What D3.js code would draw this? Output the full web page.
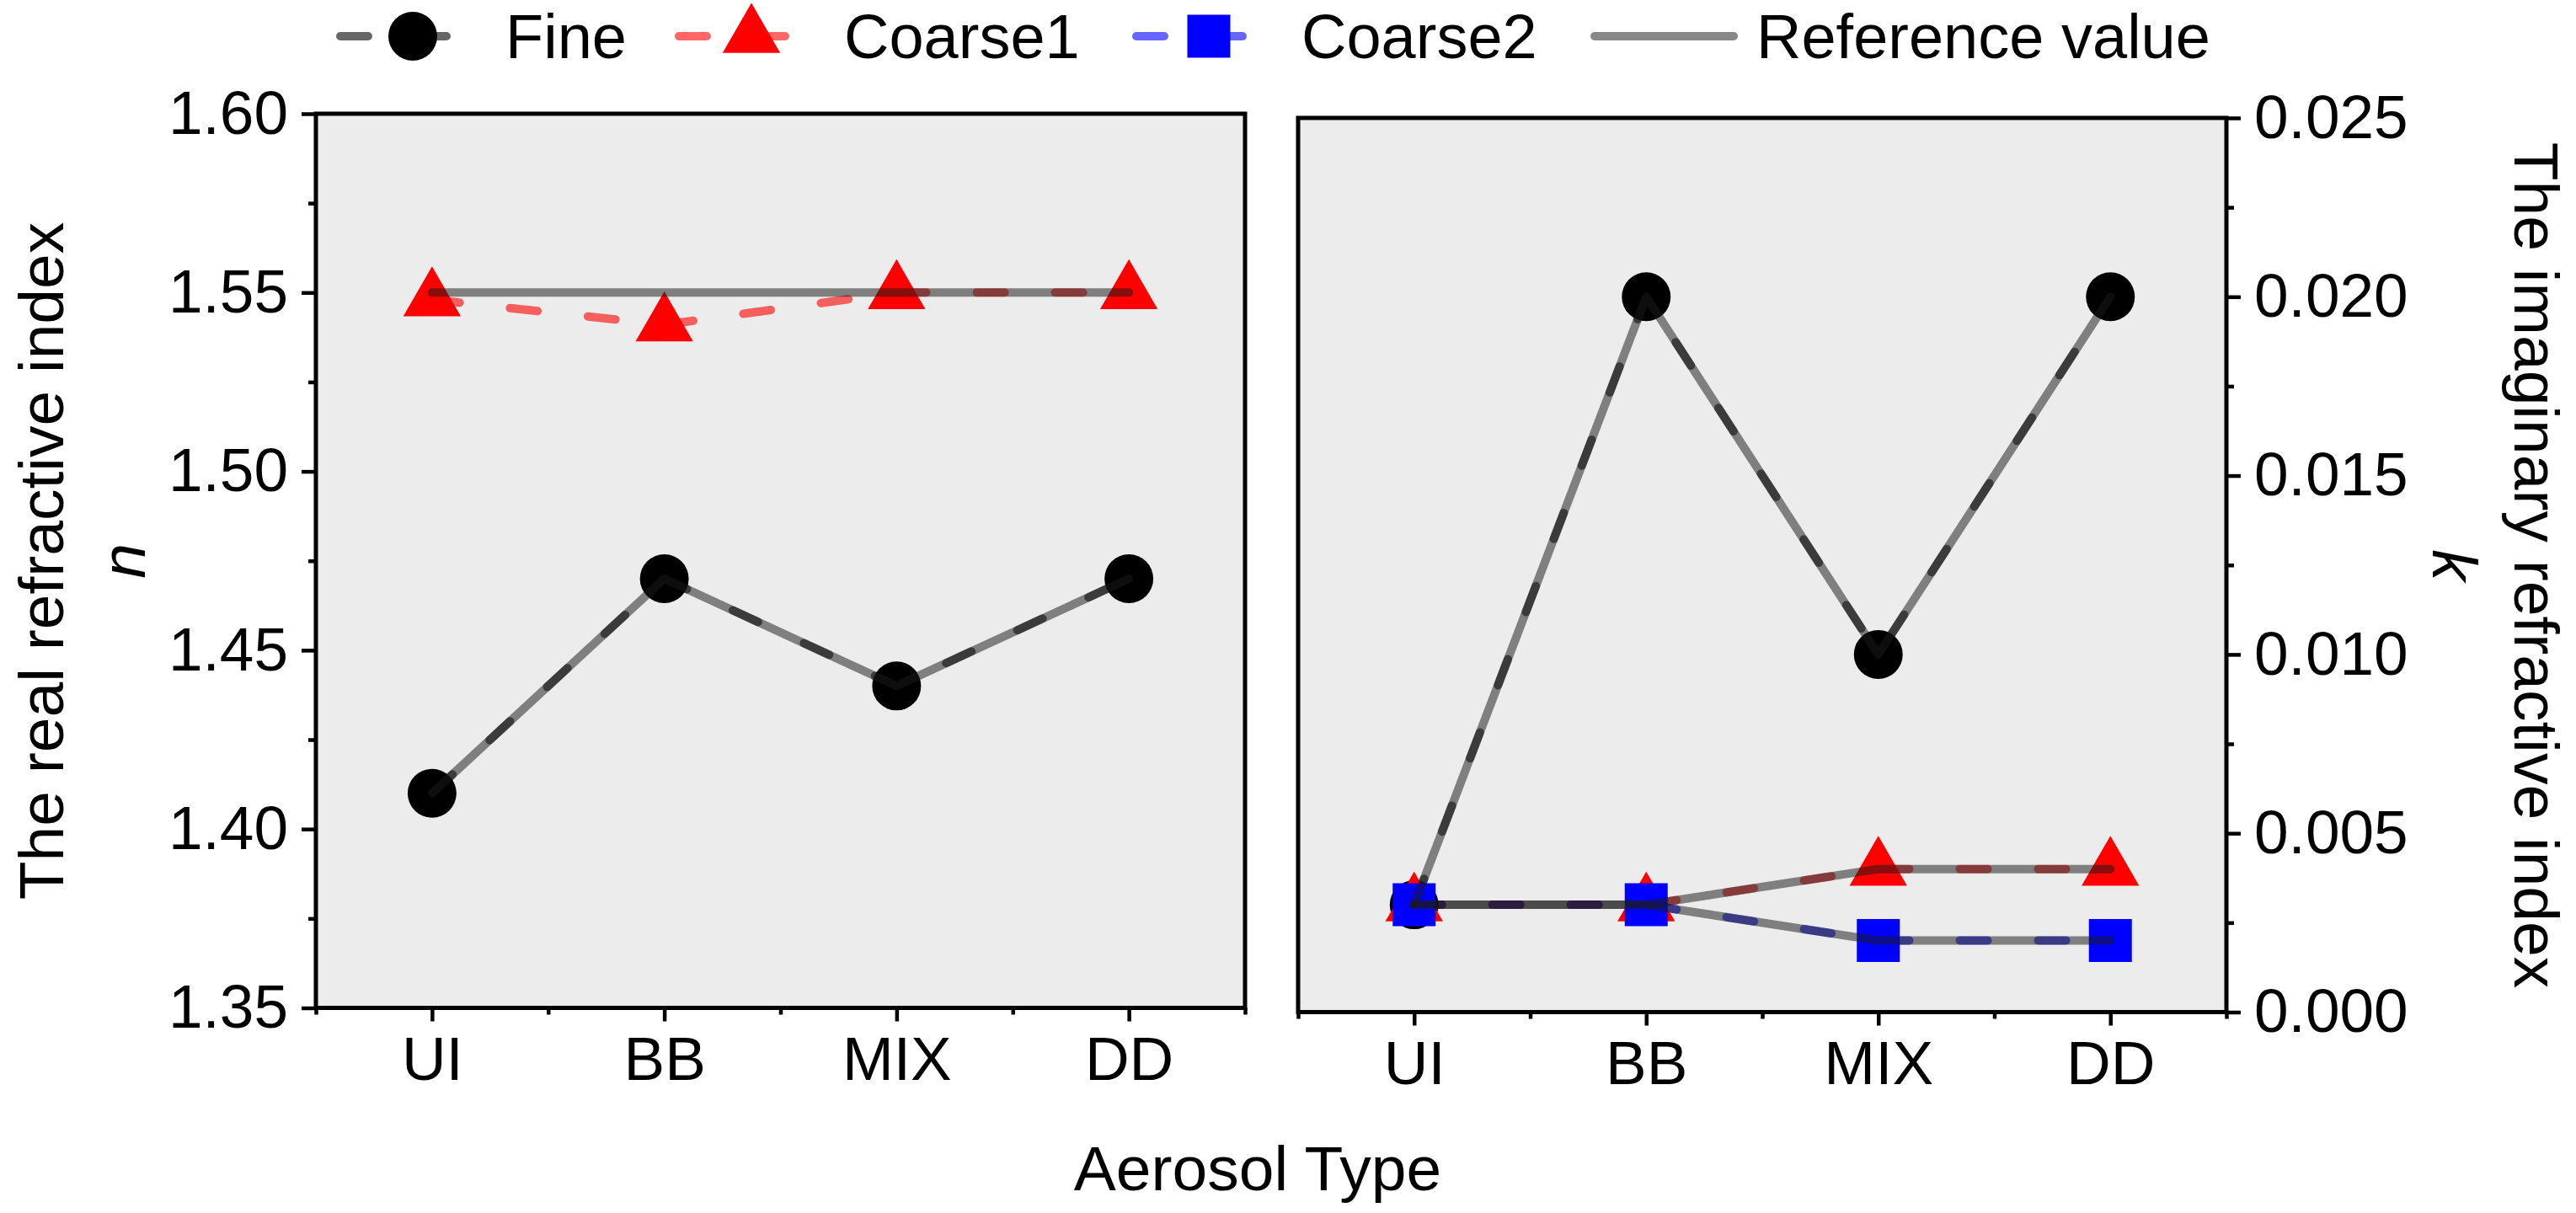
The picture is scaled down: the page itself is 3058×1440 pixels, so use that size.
<!DOCTYPE html>
<html>
<head>
<meta charset="utf-8">
<script src="https://cdnjs.cloudflare.com/ajax/libs/d3/7.8.5/d3.min.js"></script>
<style>
body { margin: 0; background: #fff; }
text { font-family: "Liberation Sans", Arial, sans-serif; fill: #000; }
</style>
</head>
<body>
<script>
var categories = ['UI', 'BB', 'MIX', 'DD'];

// real part n (left panel)
var fineN = [1.41, 1.47, 1.44, 1.47];
var coarse1N = [1.548, 1.541, 1.55, 1.55];
var refFineN = [1.41, 1.47, 1.44, 1.47];
var refCoarseN = [1.55, 1.55, 1.55, 1.55];

// imaginary part k (right panel)
var fineK = [0.003, 0.020, 0.010, 0.020];
var coarse1K = [0.003, 0.003, 0.004, 0.004];
var coarse2K = [0.003, 0.003, 0.002, 0.002];
var refFineK = [0.003, 0.020, 0.010, 0.020];
var refCoarse1K = [0.003, 0.003, 0.004, 0.004];
var refCoarse2K = [0.003, 0.003, 0.002, 0.002];

var nTicks = [1.35, 1.40, 1.45, 1.50, 1.55, 1.60];
var kTicks = [0, 0.005, 0.010, 0.015, 0.020, 0.025];

var legendNames = ['Fine', 'Coarse1', 'Coarse2', 'Reference value'];

var styles = {
    fine: { color: '#000', symbol: d3.symbolCircle, size: 2640 },
    coarse1: { color: '#f00', symbol: d3.symbolTriangle, size: 2020 },
    coarse2: { color: '#00f', symbol: d3.symbolSquare, size: 2600 }
};
var refColor = '#1a1a1a';
var dash = '33 60';

var svg = d3.select('body')
    .append('svg')
    .attr('width', 3058)
    .attr('height', 1440)
    .style('display', 'block')
    .style('background', '#fff');

// midpoints between major ticks
function halves(arr) {
    return arr.slice(1).map(function (d, i) { return (d + arr[i]) / 2; });
}

function drawPanel(p, domain, ticks, fmt, side, layers, refs) {
    var x = d3.scaleLinear().domain([0.5, 4.5]).range([p.x0, p.x1]);
    var y = d3.scaleLinear().domain(domain).range([p.y1, p.y0]);

    svg.append('rect')
        .attr('x', p.x0).attr('y', p.y0)
        .attr('width', p.x1 - p.x0).attr('height', p.y1 - p.y0)
        .attr('fill', '#ececec');

    var line = d3.line()
        .x(function (d, i) { return x(i + 1); })
        .y(function (d) { return y(d); });

    layers.forEach(function (l) {
        var st = styles[l.key];
        svg.append('path')
            .datum(l.values)
            .attr('d', line)
            .attr('fill', 'none')
            .attr('stroke', st.color)
            .attr('stroke-opacity', 0.6)
            .attr('stroke-width', 10)
            .attr('stroke-linecap', 'round')
            .attr('stroke-dasharray', dash);
    });
    layers.forEach(function (l) {
        var st = styles[l.key];
        svg.append('g').selectAll('path')
            .data(l.values)
            .enter()
            .append('path')
            .attr('transform', function (d, i) { return 'translate(' + x(i + 1) + ',' + y(d) + ')'; })
            .attr('d', d3.symbol().type(st.symbol).size(st.size))
            .attr('fill', st.color);
    });

    // reference values on top
    refs.forEach(function (r) {
        svg.append('path')
            .datum(r)
            .attr('d', line)
            .attr('fill', 'none')
            .attr('stroke', refColor)
            .attr('stroke-opacity', 0.52)
            .attr('stroke-width', 10)
            .attr('stroke-linecap', 'round')
            .attr('stroke-linejoin', 'round');
    });

    // frame
    svg.append('rect')
        .attr('x', p.x0).attr('y', p.y0)
        .attr('width', p.x1 - p.x0).attr('height', p.y1 - p.y0)
        .attr('fill', 'none')
        .attr('stroke', '#000')
        .attr('stroke-width', 5);

    // y axis
    var yAxis = side == 'left' ? d3.axisLeft(y) : d3.axisRight(y);
    var yx = side == 'left' ? p.x0 : p.x1;
    var gy = svg.append('g')
        .attr('transform', 'translate(' + yx + ',0)')
        .call(yAxis.tickValues(ticks).tickSize(17).tickPadding(16).tickFormat(d3.format(fmt)));
    var gym = svg.append('g')
        .attr('transform', 'translate(' + yx + ',0)')
        .call((side == 'left' ? d3.axisLeft(y) : d3.axisRight(y))
            .tickValues(halves(ticks)).tickSize(9).tickFormat(''));

    // x axis
    var gx = svg.append('g')
        .attr('transform', 'translate(0,' + p.y1 + ')')
        .call(d3.axisBottom(x)
            .tickValues([1, 2, 3, 4])
            .tickSize(16)
            .tickPadding(18)
            .tickFormat(function (d) { return categories[d - 1]; }));
    var gxm = svg.append('g')
        .attr('transform', 'translate(0,' + p.y1 + ')')
        .call(d3.axisBottom(x).tickValues([0.5, 1.5, 2.5, 3.5, 4.5]).tickSize(8).tickFormat(''));

    [gy, gym, gx, gxm].forEach(function (g) {
        g.attr('font-family', null).attr('font-size', null);
        g.select('.domain').remove();
        g.selectAll('.tick line').attr('stroke-width', 4.5);
        g.selectAll('.tick text').style('font-size', '73px');
    });
}

drawPanel({ x0: 375, x1: 1478, y0: 135, y1: 1196.5 }, [1.35, 1.60], nTicks, '.2f', 'left',
    [{ key: 'fine', values: fineN }, { key: 'coarse1', values: coarse1N }],
    [refFineN, refCoarseN]);

drawPanel({ x0: 1541, x1: 2643, y0: 140, y1: 1201.5 }, [0, 0.025], kTicks, '.3f', 'right',
    [{ key: 'fine', values: fineK }, { key: 'coarse1', values: coarse1K }, { key: 'coarse2', values: coarse2K }],
    [refFineK, refCoarse1K, refCoarse2K]);

// axis titles
svg.append('text')
    .attr('transform', 'translate(75,666) rotate(-90)')
    .attr('text-anchor', 'middle')
    .style('font-size', '75px')
    .text('The real refractive index');
svg.append('text')
    .attr('transform', 'translate(172,666) rotate(-90)')
    .attr('text-anchor', 'middle')
    .style('font-size', '75px')
    .style('font-style', 'italic')
    .text('n');
svg.append('text')
    .attr('transform', 'translate(2985,671) rotate(90)')
    .attr('text-anchor', 'middle')
    .style('font-size', '75px')
    .text('The imaginary refractive index');
svg.append('text')
    .attr('transform', 'translate(2888,671) rotate(90)')
    .attr('text-anchor', 'middle')
    .style('font-size', '75px')
    .style('font-style', 'italic')
    .text('k');
svg.append('text')
    .attr('x', 1493)
    .attr('y', 1413)
    .attr('text-anchor', 'middle')
    .style('font-size', '75px')
    .text('Aerosol Type');

// legend
var legendX = [399, 801, 1344, 1888];
var legendKeys = ['fine', 'coarse1', 'coarse2', 'ref'];
var legendY = 43;
var lg = svg.append('g');
legendKeys.forEach(function (k, i) {
    var x0 = legendX[i];
    if (k == 'ref') {
        lg.append('line')
            .attr('x1', x0 + 5).attr('x2', x0 + 170)
            .attr('y1', legendY).attr('y2', legendY)
            .attr('stroke', refColor)
            .attr('stroke-opacity', 0.52)
            .attr('stroke-width', 10)
            .attr('stroke-linecap', 'round');
    } else {
        var st = styles[k];
        lg.append('line')
            .attr('x1', x0 + 5).attr('x2', x0 + 131)
            .attr('y1', legendY).attr('y2', legendY)
            .attr('stroke', st.color)
            .attr('stroke-opacity', 0.6)
            .attr('stroke-width', 10)
            .attr('stroke-linecap', 'round')
            .attr('stroke-dasharray', dash);
        lg.append('path')
            .attr('transform', 'translate(' + (x0 + 91) + ',' + legendY + ')')
            .attr('d', d3.symbol().type(st.symbol).size(st.size))
            .attr('fill', st.color);
    }
    lg.append('text')
        .attr('x', x0 + (k == 'ref' ? 197 : 201))
        .attr('y', 69)
        .style('font-size', '74px')
        .text(legendNames[i]);
});
</script>
</body>
</html>
